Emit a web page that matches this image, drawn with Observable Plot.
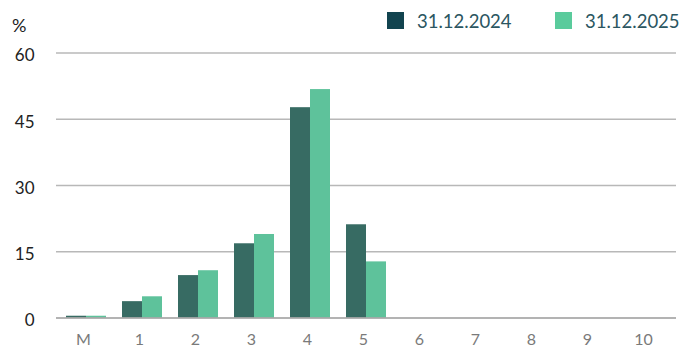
<!DOCTYPE html>
<html>
<head>
<meta charset="utf-8">
<script src="https://cdn.jsdelivr.net/npm/d3@7"></script>
<script src="https://cdn.jsdelivr.net/npm/@observablehq/plot@0.6"></script>
<style>
  html, body { margin: 0; padding: 0; background: #fff; }
  #wrap { position: relative; width: 681px; height: 349px; font-family: Lato, "Noto Sans", sans-serif; }
  #wrap svg { position: absolute; left: 0; top: 0; }
  .legend { position: absolute; top: 12px; height: 17px; display: flex; align-items: center; font-size: 18.5px; color: #2b5661; white-space: nowrap; }
  .legend .sw { width: 17px; height: 17px; display: inline-block; margin-right: 13px; }
  .unit { position: absolute; left: 12px; top: 14px; font-size: 18px; color: #222; }
  g[aria-label="x-axis tick label"] { fill: #7a7a7a; }
  g[aria-label="y-axis tick label"] { fill: #222; }
</style>
</head>
<body>
<div id="wrap"></div>
<script>
const categories = ["M", "1", "2", "3", "4", "5", "6", "7", "8", "9", "10"];
const series = ["31.12.2024", "31.12.2025"];
const values2024 = [0.4, 3.7, 9.6, 16.8, 47.6, 21.1, 0, 0, 0, 0, 0];
const values2025 = [0.4, 4.8, 10.7, 18.9, 51.7, 12.7, 0, 0, 0, 0, 0];
const yTicks = [0, 15, 30, 45, 60];
const barColors = ["#376b63", "#5ec29b"];
const legendColors = ["#12444f", "#5acb9c"];

const W = 681, H = 349, mL = 56, mR = 5, mT = 52.4, mB = 31.5;
const padIn = 0.29, padOut = 0.145;
const step = (W - mL - mR) / (categories.length - padIn + 2 * padOut);
const bw = step * (1 - padIn);

const d24 = categories.map((c, i) => ({cat: c, v: values2024[i]}));
const d25 = categories.map((c, i) => ({cat: c, v: values2025[i]}));

const chart = Plot.plot({
  width: W, height: H,
  marginLeft: mL, marginRight: mR, marginTop: mT, marginBottom: mB,
  style: {fontFamily: "Lato, 'Noto Sans', sans-serif", background: "transparent"},
  x: {domain: categories, paddingInner: padIn, paddingOuter: padOut, label: null},
  y: {domain: [0, 60], label: null},
  marks: [
    Plot.ruleY(yTicks.filter(d => d > 0), {stroke: "#b8b8b8", strokeWidth: 1.5}),
    Plot.barY(d24, {x: "cat", y: "v", fill: barColors[0], insetRight: bw / 2}),
    Plot.barY(d25, {x: "cat", y: "v", fill: barColors[1], insetLeft: bw / 2}),
    Plot.ruleY([0], {stroke: "#9a9a9a", strokeWidth: 1.5}),
    Plot.axisY({ticks: yTicks, tickSize: 0, tickPadding: 22, fontSize: 17, dy: 3, label: null}),
    Plot.axisX({tickSize: 0, tickPadding: 15.5, fontSize: 16, dx: -3, label: null})
  ]
});

const wrap = document.getElementById("wrap");
wrap.appendChild(chart);

const unit = document.createElement("div");
unit.className = "unit";
unit.textContent = "%";
wrap.appendChild(unit);

const legendX = [387, 555];
series.forEach((s, i) => {
  const item = document.createElement("div");
  item.className = "legend";
  item.style.left = legendX[i] + "px";
  const sw = document.createElement("span");
  sw.className = "sw";
  sw.style.background = legendColors[i];
  item.appendChild(sw);
  item.appendChild(document.createTextNode(s));
  wrap.appendChild(item);
});
</script>
</body>
</html>
